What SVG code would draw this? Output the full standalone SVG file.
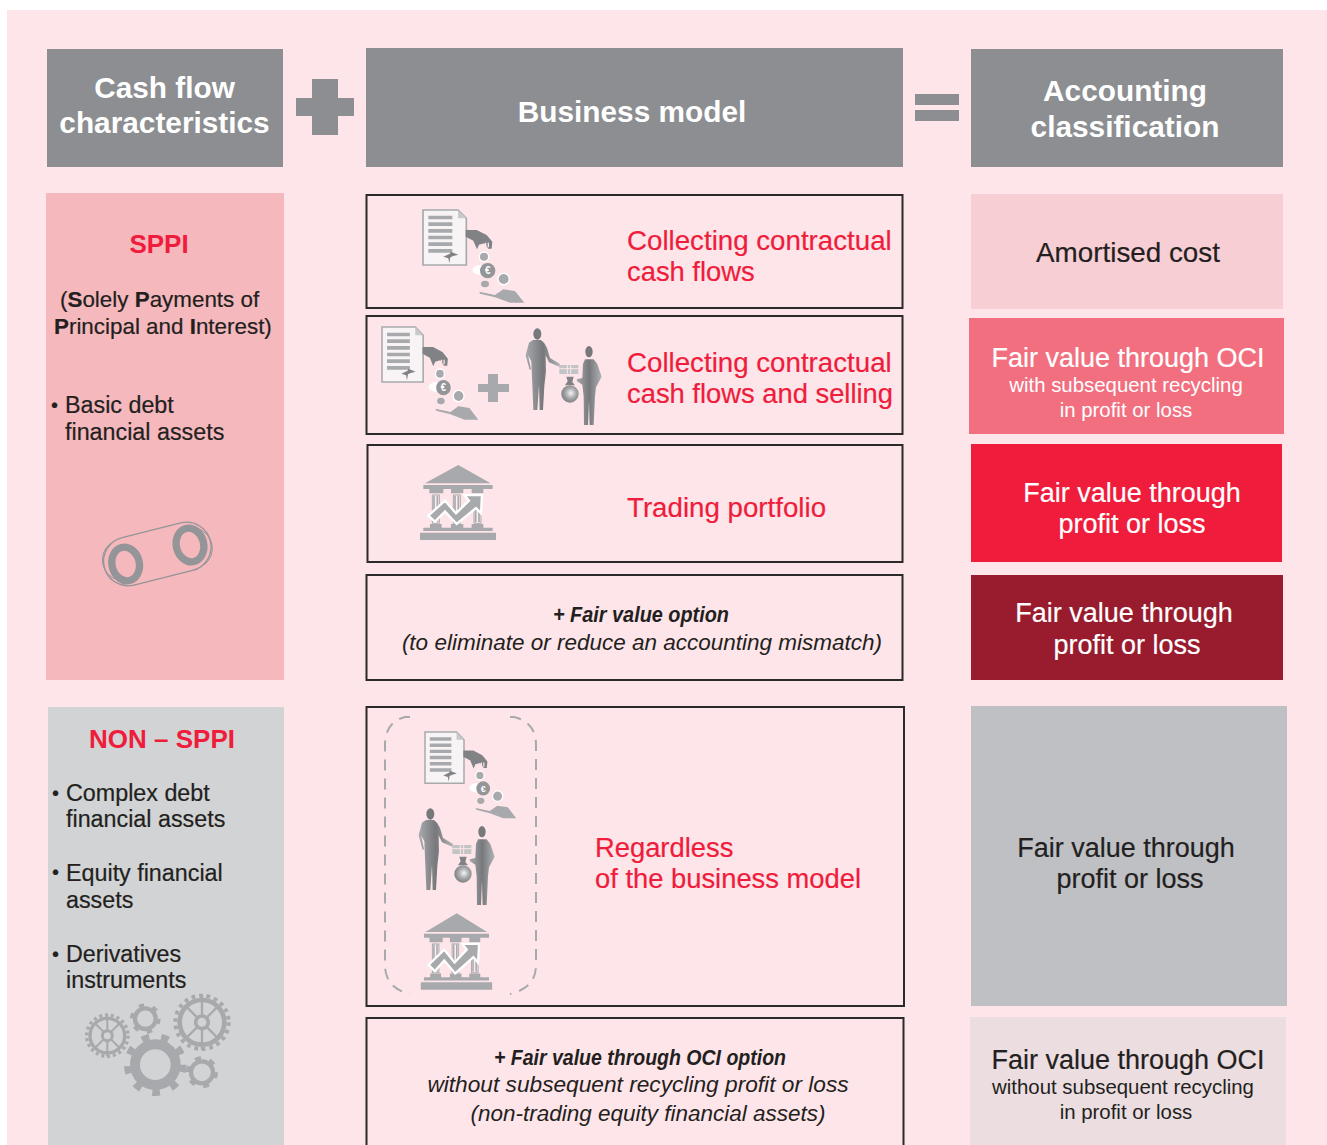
<svg xmlns="http://www.w3.org/2000/svg" xmlns:xlink="http://www.w3.org/1999/xlink" width="1327" height="1145" viewBox="0 0 1327 1145">
<style>
text{font-family:"Liberation Sans",Arial,sans-serif}
.h{font-size:29.800px;font-weight:700;fill:#fff;text-anchor:middle}
.r{font-size:27.700px;fill:#ef1c3c;stroke:#ef1c3c;stroke-width:.2px}
.r2{font-size:27.350px}
.hr{font-size:26px;font-weight:700;fill:#ef1c3c;text-anchor:middle}
.d{font-size:23.300px;fill:#231f20;stroke:#231f20;stroke-width:.2px}
.w{font-size:27px;fill:#fff;stroke:#fff;stroke-width:.2px;text-anchor:middle}
.k{font-size:27px;fill:#231f20;stroke:#231f20;stroke-width:.2px;text-anchor:middle}
.s{font-size:20.400px;text-anchor:middle}
.box{fill:none;stroke:#2b2a2b;stroke-width:2}
.i{font-size:22.500px;font-style:italic;fill:#231f20;text-anchor:middle}
.ib{font-size:22px;font-style:italic;font-weight:700;fill:#231f20;text-anchor:middle}
.g{fill:#a7a9ac}
.gr{fill:none;stroke:#a7a9ac}
</style>
<defs>
<linearGradient id="pg" x1="0" x2="1" y1="0" y2="0"><stop offset="0" stop-color="#a7a9ac"/><stop offset=".5" stop-color="#77787b"/><stop offset="1" stop-color="#b1b3b6"/></linearGradient>
<radialGradient id="bag" cx=".55" cy=".45" r=".6"><stop offset="0" stop-color="#f4f4f4"/><stop offset=".5" stop-color="#a7a9ac"/><stop offset="1" stop-color="#77787b"/></radialGradient>
<filter id="soft" x="-5%" y="-5%" width="110%" height="110%"><feGaussianBlur stdDeviation="1.800"/></filter>
<g id="contract">
<path d="M0 0H105L130 25V165H0Z" fill="#f8f4f5" stroke="#a7a9ac" stroke-width="5"/>
<path d="M105 0V25H130Z" fill="#c8c9cb"/>
<path class="g" d="M16 17h72v11H16zM16 37h72v11H16zM16 57h72v11H16zM16 77h72v11H16zM16 97h72v11H16zM16 117h72v11H16z"/>
<path fill="#808285" d="M61 140L81 131L83 125L106 134L91 138L82 142L79 160L76 145Z"/>
<path fill="#808285" d="M128 60L161 60L191 75L208 95L206 116L196 116L184 100L168 104L162 118L151 92L128 80Z"/>
<path d="M186 98h4v14h-4zM194 98h4v14h-4z" fill="#fee5e9"/>
<circle cx="183" cy="140" r="14" fill="#a7a9ac" stroke="#fff" stroke-width="4"/>
<ellipse cx="172" cy="180" rx="24" ry="15" fill="#fff"/>
<circle cx="194" cy="182" r="23" fill="#939598"/>
<text x="194" y="192" style="font-size:30px;font-weight:700" fill="#fff" text-anchor="middle">€</text>
<circle cx="242" cy="207" r="17" fill="#a7a9ac" stroke="#fff" stroke-width="4"/>
<ellipse cx="186" cy="222" rx="12" ry="10" class="g"/>
<path class="g" d="M169 245L216 255L241 238L276 243L304 278L261 278L216 262L171 251Z"/>
</g>
<g id="people">
<g filter="url(#soft)">
<ellipse cx="37" cy="18" rx="12" ry="17" fill="#77787b"/>
<path fill="url(#pg)" d="M24 36L48 36L58 46L66 60L75 90L105 108L103 116L72 103L62 82L63 130L58 175L54 246L44 246L42 170L37 246L25 246L22 170L20 125L19 100L9 82L18 123L14 126L2 82L12 44Z"/>
<path fill="#c3c4c6" d="M103 111H160V138H103Z"/>
<path d="M103 122H160M127 111V138M137 111V138" stroke="#fee5e9" stroke-width="3" fill="none"/>
<path d="M124 146L146 146L142 162L150 172L120 172L128 160Z" fill="#808285"/>
<circle cx="135" cy="198" r="26" fill="url(#bag)"/>
<ellipse cx="192" cy="71" rx="11" ry="17" fill="#77787b"/>
<path fill="url(#pg)" d="M180 94L206 94L217 108L230 146L213 178L210 205L206 291L194 291L192 215L189 291L177 291L176 205L172 170L156 160L155 154L172 150L174 108Z"/>
</g>
</g>
<g id="bank">
<path class="g" d="M175 45L272 100H75Z"/>
<path class="g" d="M70 105H278V117H70zM88 117h42v13H88zM153 117h37v13h-37zM215 117h35v13h-35zM90 222h35v11H90zM153 222h37v11h-37zM215 222h35v11h-35zM70 233H278V243H70zM60 248H288V270H60z"/>
<path d="M97 135h21v85H97zM160 135h21v85h-21zM222 135h21v85h-21z" fill="#fff" stroke="#a7a9ac" stroke-width="3" fill-opacity=".3"/>
<path d="M102 137v80M112 137v80M165 137v80M175 137v80M227 137v80M237 137v80" stroke="#a7a9ac" stroke-width="5"/>
<path class="g" stroke="#fff" stroke-width="7" stroke-linejoin="miter" d="M85 197L135 152L168 190L207 152L193 135L246 135L243 190L228 174L170 222L135 184L105 215Z"/>
</g>
<g id="gears">
<circle cx="172" cy="167" r="62" class="gr" stroke-width="10" stroke-dasharray="8.900 8.800"/>
<circle cx="172" cy="167" r="52" class="gr" stroke-width="10"/>
<circle cx="172" cy="167" r="15" class="gr" stroke-width="9"/>
<path class="gr" stroke-width="6" d="M172 105v45M172 184v45M135 130l25 25M184 179l25 25M209 130l-25 25M160 179l-25 25"/>
<circle cx="456" cy="127" r="80" class="gr" stroke-width="12" stroke-dasharray="11 11.850"/>
<circle cx="456" cy="127" r="67" class="gr" stroke-width="14"/>
<circle cx="456" cy="127" r="19" class="gr" stroke-width="11"/>
<path class="gr" stroke-width="7" d="M456 45v60M456 149v60M412 83l28 28M472 143l28 28M500 83l-28 28M440 143l-28 28"/>
<circle cx="286" cy="116" r="31" class="gr" stroke-width="13"/>
<circle cx="286" cy="116" r="41" class="gr" stroke-width="10" stroke-dasharray="16 27"/>
<circle cx="456" cy="277" r="33" class="gr" stroke-width="13"/>
<circle cx="456" cy="277" r="43" class="gr" stroke-width="10" stroke-dasharray="18 27"/>
<circle cx="316" cy="254" r="61" class="gr" stroke-width="30"/>
<circle cx="316" cy="254" r="84" class="gr" stroke-width="20" stroke-dasharray="23 36"/>
</g>
</defs>

<rect x="0" y="0" width="1327" height="1145" fill="#fff"/>
<rect x="7" y="10" width="1320" height="1135" fill="#fee5e9"/>

<g id="head-cash"><rect x="47" y="49" width="236" height="118" fill="#8c8e91"/><text class="h" x="164.500" y="98">Cash flow</text><text class="h" x="164.500" y="133">characteristics</text></g>
<g id="plus"><path fill="#8c8e91" d="M312 79h26v19h16v18h-16v19h-26v-19h-16v-18h16z"/></g>
<g id="head-business"><rect x="366" y="48" width="537" height="119" fill="#8c8e91"/><text class="h" x="632" y="122">Business model</text></g>
<g id="equals"><path fill="#8c8e91" d="M915 94h44v11h-44zM915 110h44v11h-44z"/></g>
<g id="head-class"><rect x="971" y="49" width="312" height="118" fill="#8c8e91"/><text class="h" x="1125" y="101">Accounting</text><text class="h" x="1125" y="137">classification</text></g>

<g id="sppi"><rect x="46" y="193" width="238" height="487" fill="#f5b8bc"/>
<text class="hr" x="159" y="253">SPPI</text>
<text class="d" style="font-size:22.400px" x="60" y="307">(<tspan font-weight="700">S</tspan>olely <tspan font-weight="700">P</tspan>ayments of</text>
<text class="d" style="font-size:22.400px" x="54" y="334"><tspan font-weight="700">P</tspan>rincipal and <tspan font-weight="700">I</tspan>nterest)</text>
<text class="d" style="font-size:20px" x="51" y="412">•</text><text class="d" x="65" y="413">Basic debt</text>
<text class="d" x="65" y="440">financial assets</text>
<g transform="translate(80 500) scale(.3333)">
<rect x="68" y="88.500" width="328" height="147" rx="73.500" transform="rotate(-14 232 162)" fill="none" stroke="#939598" stroke-width="4"/>
<path d="M115 240A62 62 0 0 1 92 130M350 85A62 62 0 0 1 372 195" fill="none" stroke="#939598" stroke-width="3"/>
<ellipse cx="137" cy="192" rx="41" ry="51" transform="rotate(-14 137 192)" fill="none" stroke="#939598" stroke-width="22"/>
<ellipse cx="330" cy="135" rx="41" ry="51" transform="rotate(-14 330 135)" fill="none" stroke="#939598" stroke-width="22"/>
</g></g>

<g id="bm-collect"><rect class="box" x="366.500" y="195" width="536" height="113"/>
<use xlink:href="#contract" href="#contract" transform="translate(423 210) scale(.3333)"/>
<text class="r" x="627" y="250">Collecting contractual</text><text class="r r2" x="627" y="281">cash flows</text></g>

<g id="bm-collect-sell"><rect class="box" x="366.500" y="316" width="536" height="118"/>
<use xlink:href="#contract" href="#contract" transform="translate(382 327) scale(.3167 .3333)"/>
<path class="g" d="M488 374h10v10h11v8h-11v10h-10v-10h-10v-8h10z"/>
<use xlink:href="#people" href="#people" transform="translate(525 328) scale(.3333)"/>
<text class="r" x="627" y="372">Collecting contractual</text><text class="r r2" x="627" y="403">cash flows and selling</text></g>

<g id="bm-trading"><rect class="box" x="367.500" y="445" width="535" height="117"/>
<use xlink:href="#bank" href="#bank" transform="translate(400 450) scale(.3333)"/>
<text class="r" x="627" y="517">Trading portfolio</text></g>

<g id="bm-fvo"><rect class="box" x="366.500" y="575" width="536" height="105"/>
<text class="ib" x="641" y="622" textLength="176" lengthAdjust="spacingAndGlyphs">+ Fair value option</text>
<text class="i" x="642" y="650">(to eliminate or reduce an accounting mismatch)</text></g>

<g id="ac-amortised"><rect x="971" y="194" width="312" height="115" fill="#f8ced5"/><text class="k" style="font-size:27.800px" x="1128" y="262">Amortised cost</text></g>
<g id="ac-fvoci"><rect x="969" y="318" width="315" height="116" fill="#f26f7f"/><text class="w" x="1128" y="367">Fair value through OCI</text><text class="s" fill="#fff" x="1126" y="392">with subsequent recycling</text><text class="s" fill="#fff" x="1126" y="417">in profit or loss</text></g>
<g id="ac-fvpl"><rect x="971" y="444" width="311" height="118" fill="#ef1c3c"/><text class="w" x="1132" y="502">Fair value through</text><text class="w" x="1132" y="533">profit or loss</text></g>
<g id="ac-fvo"><rect x="971" y="575" width="312" height="105" fill="#991b2e"/><text class="w" x="1124" y="622">Fair value through</text><text class="w" x="1127" y="654">profit or loss</text></g>

<g id="non-sppi"><rect x="48" y="707" width="236" height="438" fill="#d1d3d4"/>
<text class="hr" x="162" y="748">NON – SPPI</text>
<text class="d" style="font-size:20px" x="52" y="800">•</text><text class="d" x="66" y="801">Complex debt</text><text class="d" x="66" y="827">financial assets</text>
<text class="d" style="font-size:20px" x="52" y="879">•</text><text class="d" x="66" y="881">Equity financial</text><text class="d" x="66" y="908">assets</text>
<text class="d" style="font-size:20px" x="52" y="961">•</text><text class="d" x="66" y="962">Derivatives</text><text class="d" x="66" y="988">instruments</text>
<use xlink:href="#gears" href="#gears" transform="translate(50 980) scale(.3333)"/></g>

<g id="bm-regardless"><rect class="box" x="366.500" y="707" width="537.500" height="299"/>
<path d="M410 717H405Q385 722 385 745V965Q385 988 410 994M510 717H514Q536 722 536 745V965Q536 988 510 994" fill="none" stroke="#a7a9ac" stroke-width="2" stroke-dasharray="11 8"/>
<use xlink:href="#contract" href="#contract" transform="translate(425 732) scale(.3 .31)"/>
<use xlink:href="#people" href="#people" transform="translate(418 808) scale(.3333)"/>
<use xlink:href="#bank" href="#bank" transform="translate(402 898) scale(.313 .34)"/>
<text class="r r2" x="595" y="857">Regardless</text><text class="r r2" x="595" y="888">of the business model</text></g>

<g id="bm-ocioption"><path class="box" d="M366.500 1145V1018H903.500V1145"/>
<text class="ib" x="640" y="1065" textLength="292" lengthAdjust="spacingAndGlyphs">+ Fair value through OCI option</text>
<text class="i" style="font-size:22.700px" x="638" y="1092">without subsequent recycling profit or loss</text>
<text class="i" x="648" y="1121">(non-trading equity financial assets)</text></g>

<g id="ac-regardless"><rect x="971" y="706" width="316" height="300" fill="#bfc0c4"/><text class="k" x="1126" y="857">Fair value through</text><text class="k" x="1130" y="888">profit or loss</text></g>
<g id="ac-oci"><rect x="970" y="1017" width="316" height="128" fill="#ebdde0"/><text class="k" x="1128" y="1069">Fair value through OCI</text><text class="s" fill="#231f20" x="1123" y="1094">without subsequent recycling</text><text class="s" fill="#231f20" x="1126" y="1119">in profit or loss</text></g>
</svg>
